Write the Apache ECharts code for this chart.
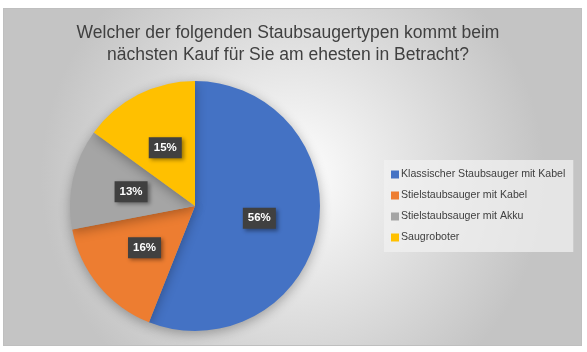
<!DOCTYPE html>
<html>
<head>
<meta charset="utf-8">
<script src="https://cdn.jsdelivr.net/npm/echarts@6/dist/echarts.min.js"></script>
<style>
  html, body { margin: 0; padding: 0; background: #fff; }
  #chart { position: absolute; left: 3px; top: 8px; width: 577px; height: 336px;
           border: 1px solid #bfbfbf; }
</style>
</head>
<body>
<div id="chart"></div>
<script>
// Werte aus der Umfrage (Anteile in %)
var categories = ['Klassischer Staubsauger mit Kabel', 'Stielstaubsauger mit Kabel', 'Stielstaubsauger mit Akku', 'Saugroboter'];
var values = [56, 16, 13, 15];
var colors = ['#4472c4', '#ed7d31', '#a5a5a5', '#ffc000'];

var chart = echarts.init(document.getElementById('chart'));

var pieData = categories.map(function (name, i) {
    return { name: name, value: values[i] };
});

var option = {
    backgroundColor: {
        type: 'radial', x: 0.5, y: 0.5, r: 0.75,
        colorStops: [
            { offset: 0, color: '#ffffff' },
            { offset: 1, color: '#c4c4c4' }
        ]
    },
    color: colors,
    title: {
        text: 'Welcher der folgenden Staubsaugertypen kommt beim\nnächsten Kauf für Sie am ehesten in Betracht?',
        left: 284,
        top: 13,
        padding: 0,
        textAlign: 'center',
        textStyle: {
            fontFamily: 'Liberation Sans',
            fontSize: 17.5,
            fontWeight: 'normal',
            color: '#404040',
            lineHeight: 22
        }
    },
    legend: {
        orient: 'vertical',
        left: 380,
        top: 151,
        itemWidth: 8,
        itemHeight: 8,
        itemGap: 10,
        padding: [9, 8, 9, 7],
        backgroundColor: 'rgba(240,240,240,0.75)',
        icon: 'rect',
        textStyle: { fontFamily: 'Liberation Sans', fontSize: 10.6, color: '#404040', padding: [0, 0, 0, -3] },
        data: categories
    },
    series: [{
        type: 'pie',
        center: [191, 197],
        radius: 125,
        startAngle: 90,
        clockwise: true,
        data: pieData,
        itemStyle: {
            shadowBlur: 12,
            shadowOffsetY: 3,
            shadowColor: 'rgba(0,0,0,0.3)'
        },
        label: {
            show: true,
            position: 'inside',
            formatter: '{c}%',
            fontFamily: 'Liberation Sans',
            fontSize: 11.5,
            fontWeight: 'bold',
            color: '#ffffff',
            backgroundColor: '#404040',
            padding: [5, 5, 4, 5],
            shadowBlur: 4,
            shadowOffsetX: 2,
            shadowOffsetY: 2,
            shadowColor: 'rgba(0,0,0,0.4)'
        },
        labelLine: { show: false },
        emphasis: { disabled: true }
    }]
};

chart.setOption(option);
</script>
</body>
</html>
